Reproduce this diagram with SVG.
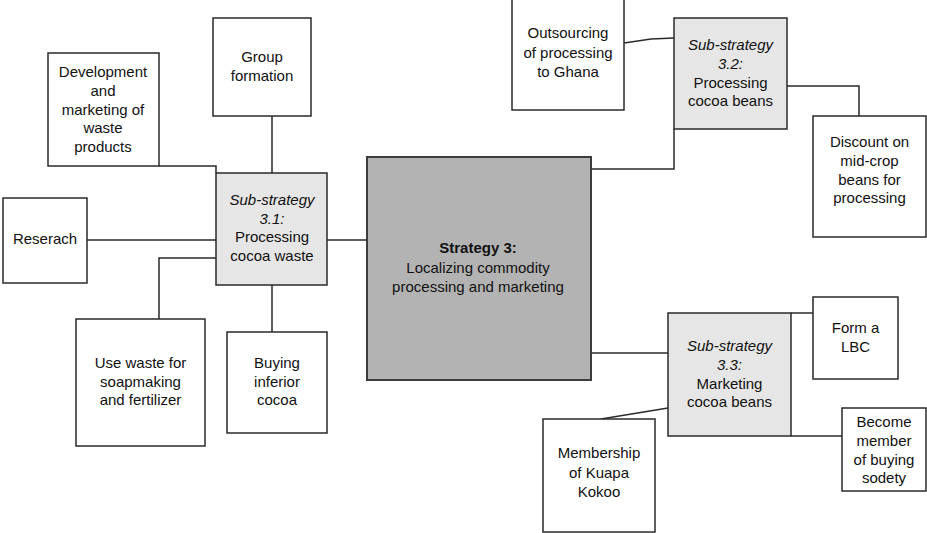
<svg xmlns="http://www.w3.org/2000/svg" width="927" height="533" viewBox="0 0 927 533">
  <style>
    .box { fill: #ffffff; stroke: #2a2a2a; stroke-width: 1.5; }
    .sub { fill: #e6e6e6; stroke: #2a2a2a; stroke-width: 1.5; }
    .main { fill: #b3b3b3; stroke: #3c3c3c; stroke-width: 2; }
    .link { fill: none; stroke: #2a2a2a; stroke-width: 1.5; }
    text { font-family: "Liberation Sans", Arial, sans-serif; font-size: 15px; fill: #111111; text-anchor: middle; }
    .it { font-style: italic; }
    .b { font-weight: bold; }
  </style>

  <!-- connectors -->
  <g id="connectors">
    <polyline class="link" points="159,166 216,166 216,173"/>
    <line class="link" x1="272" y1="116" x2="272" y2="173"/>
    <line class="link" x1="87" y1="240" x2="216" y2="240"/>
    <polyline class="link" points="216,258 159,258 159,319"/>
    <line class="link" x1="272" y1="285" x2="272" y2="332"/>
    <line class="link" x1="327" y1="240" x2="367" y2="240"/>
    <polyline class="link" points="591,169 674,169 674,129"/>
    <polyline class="link" points="624,43 651,39 674,38"/>
    <polyline class="link" points="787,86 859,86 859,116"/>
    <line class="link" x1="591" y1="353" x2="668" y2="353"/>
    <line class="link" x1="791" y1="313" x2="813" y2="313"/>
    <line class="link" x1="791" y1="436" x2="842" y2="436"/>
    <line class="link" x1="668" y1="408" x2="601" y2="419"/>
  </g>

  <!-- strategy 3 -->
  <g id="strategy3">
    <rect class="main" x="367" y="157" width="224" height="223"/>
    <text x="478" y="253" class="b">Strategy 3:</text>
    <text x="478" y="273">Localizing commodity</text>
    <text x="478" y="292">processing and marketing</text>
  </g>

  <!-- sub-strategy 3.1 and its actions -->
  <g id="sub31">
    <rect class="sub" x="216" y="173" width="111" height="112"/>
    <text x="272" y="205" class="it">Sub-strategy</text>
    <text x="272" y="224" class="it">3.1:</text>
    <text x="272" y="242">Processing</text>
    <text x="272" y="261">cocoa waste</text>
  </g>
  <g id="development">
    <rect class="box" x="48" y="53" width="111" height="113"/>
    <text x="103" y="77">Development</text>
    <text x="103" y="96">and</text>
    <text x="103" y="115">marketing of</text>
    <text x="103" y="133">waste</text>
    <text x="103" y="152">products</text>
  </g>
  <g id="group-formation">
    <rect class="box" x="213" y="18" width="98" height="98"/>
    <text x="262" y="62">Group</text>
    <text x="262" y="81">formation</text>
  </g>
  <g id="research">
    <rect class="box" x="3" y="198" width="84" height="85"/>
    <text x="45" y="244">Reserach</text>
  </g>
  <g id="use-waste">
    <rect class="box" x="76" y="319" width="129" height="127"/>
    <text x="140.5" y="368">Use waste for</text>
    <text x="140.5" y="387">soapmaking</text>
    <text x="140.5" y="405">and fertilizer</text>
  </g>
  <g id="buying-inferior">
    <rect class="box" x="227" y="332" width="100" height="101"/>
    <text x="277" y="368">Buying</text>
    <text x="277" y="387">inferior</text>
    <text x="277" y="405">cocoa</text>
  </g>

  <!-- sub-strategy 3.2 and its actions -->
  <g id="sub32">
    <rect class="sub" x="674" y="18" width="113" height="111"/>
    <text x="730.5" y="50" class="it">Sub-strategy</text>
    <text x="730.5" y="69" class="it">3.2:</text>
    <text x="730.5" y="88">Processing</text>
    <text x="730.5" y="106">cocoa beans</text>
  </g>
  <g id="outsourcing">
    <rect class="box" x="512" y="-2" width="112" height="112"/>
    <text x="568" y="38">Outsourcing</text>
    <text x="568" y="58">of processing</text>
    <text x="568" y="77">to Ghana</text>
  </g>
  <g id="discount">
    <rect class="box" x="813" y="116" width="113" height="121"/>
    <text x="869.5" y="147">Discount on</text>
    <text x="869.5" y="166">mid-crop</text>
    <text x="869.5" y="185">beans for</text>
    <text x="869.5" y="203">processing</text>
  </g>

  <!-- sub-strategy 3.3 and its actions -->
  <g id="sub33">
    <rect class="sub" x="668" y="313" width="123" height="123"/>
    <text x="729.5" y="351" class="it">Sub-strategy</text>
    <text x="729.5" y="370" class="it">3.3:</text>
    <text x="729.5" y="389">Marketing</text>
    <text x="729.5" y="407">cocoa beans</text>
  </g>
  <g id="form-lbc">
    <rect class="box" x="813" y="297" width="85" height="82"/>
    <text x="855.5" y="333">Form a</text>
    <text x="855.5" y="352">LBC</text>
  </g>
  <g id="buying-society">
    <rect class="box" x="842" y="408" width="84" height="83"/>
    <text x="884" y="427">Become</text>
    <text x="884" y="446">member</text>
    <text x="884" y="465">of buying</text>
    <text x="884" y="483">sodety</text>
  </g>
  <g id="kuapa-kokoo">
    <rect class="box" x="543" y="419" width="112" height="113"/>
    <text x="599" y="458">Membership</text>
    <text x="599" y="478">of Kuapa</text>
    <text x="599" y="497">Kokoo</text>
  </g>
</svg>
